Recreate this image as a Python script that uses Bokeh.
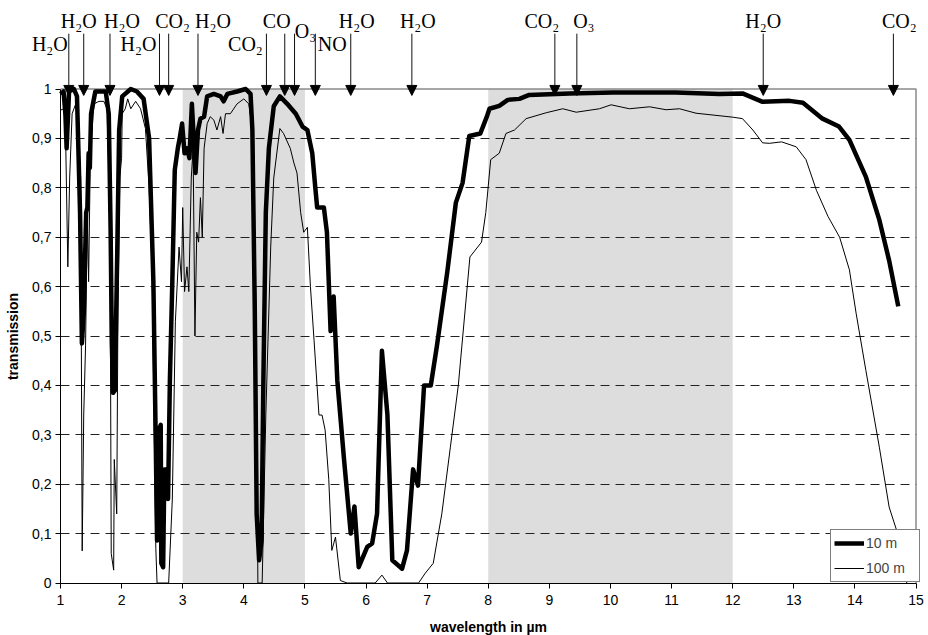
from bokeh.plotting import figure
from bokeh.models import (Range1d, FixedTicker, CustomJSTickFormatter, BoxAnnotation,
                          Arrow, NormalHead, LabelSet, ColumnDataSource)
from bokeh.core.properties import value
from bokeh.embed import file_html
from bokeh.resources import INLINE

# ---------------- data ----------------
# 10 m path (thick)
wl_10m = [1.00, 1.05, 1.08, 1.10, 1.14, 1.22, 1.27, 1.32, 1.35, 1.38, 1.42, 1.44, 1.46, 1.48, 1.50,
          1.57, 1.74, 1.79, 1.82, 1.84, 1.86, 1.89, 1.93, 1.96, 2.01, 2.15, 2.25, 2.36, 2.45, 2.52,
          2.56, 2.58, 2.61, 2.64, 2.65, 2.68, 2.70, 2.73, 2.76, 2.79, 2.83, 2.87, 2.92, 2.95, 2.99,
          3.03, 3.07, 3.11, 3.15, 3.18, 3.21, 3.25, 3.29, 3.35, 3.40, 3.51, 3.62, 3.67, 3.73, 3.89,
          4.03, 4.11, 4.14, 4.18, 4.21, 4.25, 4.29, 4.32, 4.36, 4.41, 4.49, 4.59, 4.71, 4.85, 4.96,
          5.04, 5.12, 5.17, 5.20, 5.31, 5.36, 5.42, 5.47, 5.53, 5.64, 5.75, 5.81, 5.88, 6.02, 6.10,
          6.18, 6.26, 6.35, 6.43, 6.59, 6.67, 6.77, 6.85, 6.95, 7.06, 7.16, 7.33, 7.47, 7.58, 7.69,
          7.87, 7.98, 8.02, 8.18, 8.32, 8.51, 8.67, 9.33, 10.04, 11.07, 11.78, 12.16, 12.49, 12.93,
          13.15, 13.47, 13.74, 13.91, 14.18, 14.40, 14.56, 14.71]
tr_10m = [0.99, 0.995, 0.95, 0.88, 0.995, 1.0, 0.985, 0.75, 0.485, 0.545, 0.75, 0.76, 0.87, 0.84, 0.95,
          0.995, 0.995, 0.95, 0.715, 0.485, 0.385, 0.39, 0.68, 0.917, 0.985, 1.0, 0.995, 0.98, 0.90, 0.61,
          0.275, 0.086, 0.31, 0.32, 0.04, 0.032, 0.23, 0.23, 0.17, 0.41, 0.61, 0.836, 0.88, 0.90, 0.93,
          0.87, 0.88, 0.86, 0.97, 0.90, 0.83, 0.917, 0.94, 0.944, 0.985, 0.99, 0.985, 0.975, 0.99, 0.995,
          1.0, 0.99, 0.917, 0.545, 0.14, 0.046, 0.086, 0.41, 0.75, 0.88, 0.965, 0.985, 0.97, 0.95, 0.924,
          0.917, 0.87, 0.80, 0.76, 0.76, 0.71, 0.51, 0.58, 0.41, 0.25, 0.10, 0.155, 0.032, 0.073, 0.08,
          0.14, 0.47, 0.34, 0.046, 0.029, 0.066, 0.23, 0.197, 0.40, 0.40, 0.48, 0.63, 0.77, 0.81, 0.905,
          0.91, 0.945, 0.96, 0.966, 0.978, 0.98, 0.988, 0.991, 0.993, 0.993, 0.99, 0.991, 0.974, 0.976,
          0.972, 0.94, 0.924, 0.897, 0.822, 0.735, 0.653, 0.56]

# 100 m path (thin)
wl_100m = [1.00, 1.05, 1.08, 1.12, 1.15, 1.19, 1.25, 1.28, 1.33, 1.355, 1.38, 1.41, 1.44, 1.46, 1.49,
           1.55, 1.63, 1.71, 1.76, 1.81, 1.83, 1.87, 1.88, 1.92, 1.94, 1.97, 2.00, 2.01, 2.06, 2.10,
           2.15, 2.23, 2.31, 2.39, 2.45, 2.50, 2.56, 2.58, 2.77, 2.83, 2.88, 2.94, 2.98, 3.00, 3.03,
           3.07, 3.10, 3.14, 3.17, 3.20, 3.23, 3.26, 3.29, 3.32, 3.35, 3.40, 3.45, 3.51, 3.56, 3.62,
           3.66, 3.70, 3.78, 3.89, 4.00, 4.08, 4.14, 4.20, 4.23, 4.30, 4.36, 4.44, 4.49, 4.59, 4.65,
           4.76, 4.82, 4.87, 4.93, 4.98, 5.04, 5.09, 5.15, 5.23, 5.28, 5.33, 5.39, 5.44, 5.50, 5.58,
           5.69, 6.15, 6.26, 6.35, 6.86, 6.97, 7.10, 7.24, 7.38, 7.51, 7.70, 7.89, 7.96, 8.04, 8.18,
           8.29, 8.43, 8.62, 8.95, 9.22, 9.44, 9.82, 10.01, 10.31, 10.64, 10.91, 11.13, 11.40, 12.00,
           12.16, 12.33, 12.49, 12.60, 12.80, 13.04, 13.20, 13.37, 13.56, 13.75, 13.91, 14.02, 14.18,
           14.40, 14.56, 14.70, 14.85]
tr_100m = [0.957, 0.96, 0.93, 0.64, 0.82, 0.95, 0.97, 0.94, 0.82, 0.065, 0.34, 0.48, 0.75, 0.61, 0.88,
           0.97, 0.975, 0.975, 0.96, 0.75, 0.06, 0.026, 0.25, 0.14, 0.55, 0.82, 0.86, 0.95, 0.96, 0.98,
           0.96, 0.975, 0.96, 0.92, 0.80, 0.63, 0.07, 0.0, 0.0, 0.17, 0.53, 0.68, 0.61, 0.76, 0.59,
           0.64, 0.59, 0.82, 0.88, 0.50, 0.71, 0.69, 0.78, 0.70, 0.88, 0.93, 0.944, 0.937, 0.917, 0.944,
           0.91, 0.95, 0.95, 0.97, 0.98, 0.97, 0.917, 0.55, 0.0, 0.0, 0.34, 0.68, 0.82, 0.92, 0.91,
           0.88, 0.85, 0.83, 0.75, 0.71, 0.72, 0.60, 0.49, 0.34, 0.34, 0.31, 0.21, 0.066, 0.093, 0.005,
           0.0, 0.0, 0.016, 0.0, 0.0, 0.02, 0.04, 0.14, 0.275, 0.40, 0.66, 0.69, 0.75, 0.857, 0.87,
           0.91, 0.917, 0.94, 0.952, 0.96, 0.953, 0.96, 0.968, 0.96, 0.964, 0.958, 0.96, 0.951, 0.943,
           0.94, 0.917, 0.891, 0.89, 0.893, 0.883, 0.857, 0.795, 0.742, 0.70, 0.634, 0.546, 0.43,
           0.275, 0.154, 0.10, 0.0]

# shaded atmospheric windows
band_start = [3, 8]
band_end = [5, 12]

# absorbing molecules (arrows at the top)
mol_wl = [1.136, 1.38, 1.81, 2.62, 2.77, 3.25, 4.37, 4.67, 4.83, 5.17, 5.75, 6.75, 9.09, 9.45, 12.5, 14.63]
mol_name = ["H\u2082O", "H\u2082O", "H\u2082O", "H\u2082O", "CO\u2082", "H\u2082O", "CO\u2082", "CO",
            "O\u2083", "NO", "H\u2082O", "H\u2082O", "CO\u2082", "O\u2083", "H\u2082O", "CO\u2082"]

x_ticks = list(range(1, 16))
y_ticks = [i / 10 for i in range(0, 11)]
grid_ticks = [i / 10 for i in range(1, 10)]

# ---------------- style / layout ----------------
W, H = 928, 635
X_MIN, X_MAX = 1, 15
PX_LEFT, PX_RIGHT = 60, 915.5      # screen x of wavelength 1 and 15
PX_Y0, PX_Y1 = 582.5, 88.5         # screen y of transmission 0 and 1
sx = (PX_RIGHT - PX_LEFT) / (X_MAX - X_MIN)
sy = PX_Y0 - PX_Y1
x_lo = X_MIN - PX_LEFT / sx
x_hi = X_MAX + (W - PX_RIGHT) / sx
y_lo = -(H - PX_Y0) / sy
y_hi = PX_Y0 / sy

label_row = ["low", "up", "up", "low", "up", "up", "low", "up", "mid", "low", "up", "up", "up", "up", "up", "up"]
label_dx = [-19, -5, 12, -21, 4, 15, -21, -8, 11, 17, 6, 6, -13, 7, 0, 6]
row_y = {"up": 1.124, "mid": 1.104, "low": 1.0775}
ARROW_TOP = 1.112
ARROW_TIP = 0.987

p = figure(width=W, height=H, x_range=Range1d(x_lo, x_hi), y_range=Range1d(y_lo, y_hi),
           min_border=0, output_backend="svg", toolbar_location=None, title=None)
p.outline_line_color = None
p.background_fill_color = "white"
p.border_fill_color = "white"

# bands
for a, b in zip(band_start, band_end):
    p.add_layout(BoxAnnotation(left=a, right=b, bottom=0, top=1, fill_color="#dddddd",
                               fill_alpha=1, line_color=None, level="image"))

# grid: dashed horizontal lines between wavelength 1 and 15 only
p.xgrid.visible = False
grid_style = dict(line_color="#222222", line_dash="9 6", line_width=1)
if "cross_bounds" in p.ygrid[0].properties():
    p.ygrid.ticker = FixedTicker(ticks=grid_ticks)
    p.ygrid.grid_line_color = grid_style["line_color"]
    p.ygrid.grid_line_dash = grid_style["line_dash"]
    p.ygrid.grid_line_width = grid_style["line_width"]
    p.ygrid.cross_bounds = (X_MIN, X_MAX)
else:
    p.ygrid.visible = False
    p.segment(x0=[X_MIN] * len(grid_ticks), y0=grid_ticks, x1=[X_MAX] * len(grid_ticks),
              y1=grid_ticks, level="underlay", **grid_style)

# axes (drawn at fixed data locations inside the frame)
font = "Liberation Sans"
p.xaxis.ticker = FixedTicker(ticks=x_ticks)
p.xaxis.bounds = (X_MIN, X_MAX)
p.xaxis.fixed_location = 0
p.xaxis.axis_label = "wavelength in \u00b5m"
p.yaxis.ticker = FixedTicker(ticks=y_ticks)
p.yaxis.bounds = (0, 1)
p.yaxis.fixed_location = X_MIN
p.yaxis.axis_label = "transmission"
p.yaxis.formatter = CustomJSTickFormatter(code="""
    if (Math.abs(tick) < 1e-9) return '0';
    if (Math.abs(tick - 1) < 1e-9) return '1';
    return tick.toFixed(1).replace('.', ',');
""")
for ax in (p.xaxis, p.yaxis):
    ax.axis_line_color = "black"
    ax.axis_line_width = 1
    ax.major_tick_line_color = "black"
    ax.major_tick_out = 5
    ax.major_tick_in = 0
    ax.minor_tick_line_color = None
    ax.major_label_text_font = font
    ax.major_label_text_font_size = "14px"
    ax.major_label_text_color = "black"
    ax.axis_label_text_font = font
    ax.axis_label_text_font_size = "14px"
    ax.axis_label_text_font_style = "bold"
    ax.axis_label_text_color = "black"
    ax.axis_label_standoff = 8
p.xaxis.axis_label_standoff = 10
p.xaxis.major_label_standoff = 7
p.yaxis.major_label_standoff = 4

# frame border (top and right)
p.line([X_MIN, X_MAX, X_MAX], [1, 1, 0], line_color="#8a8a8a", line_width=1.5)

# curves
p.line(wl_10m, tr_10m, line_color="black", line_width=4.5, line_join="round",
       legend_label="10 m")
p.line(wl_100m, tr_100m, line_color="black", line_width=1, line_join="round",
       legend_label="100 m")

# arrows + molecule labels
arr_src = ColumnDataSource(dict(x=mol_wl, ys=[ARROW_TOP] * len(mol_wl), ye=[ARROW_TIP] * len(mol_wl)))
p.add_layout(Arrow(end=NormalHead(size=10, fill_color="black", line_color="black", line_width=1),
                   x_start="x", y_start="ys", x_end="x", y_end="ye", source=arr_src,
                   line_color="#111111", line_width=1))
lab_src = ColumnDataSource(dict(x=mol_wl, y=[row_y[r] for r in label_row], text=mol_name, dx=label_dx))
p.add_layout(LabelSet(x="x", y="y", text="text", x_offset="dx", source=lab_src,
                      text_font=value("Liberation Serif"), text_font_size="20px",
                      text_color="black", text_align="center", text_baseline="alphabetic"))

# legend
lg = p.legend[0]
lg.location = (830, H - 582)
lg.margin = 0
lg.padding = 3
lg.spacing = 5
lg.glyph_width = 30
lg.glyph_height = 20
lg.label_height = 20
lg.label_width = 50
lg.label_standoff = 2
lg.label_text_font = font
lg.label_text_font_size = "14px"
lg.border_line_color = "black"
lg.border_line_width = 1
lg.background_fill_color = "white"
lg.background_fill_alpha = 1

open("out.html", "w").write(file_html(p, INLINE))
